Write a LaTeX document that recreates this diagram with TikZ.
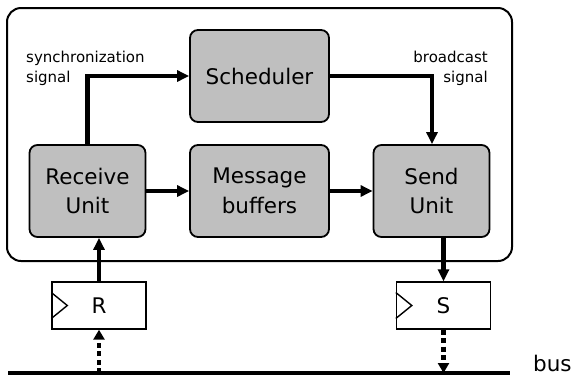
\documentclass[tikz,border=0pt]{standalone}
\usepackage{fontspec}
\setmainfont{DejaVu Sans}
\usetikzlibrary{arrows.meta,calc}
\begin{document}
\begin{tikzpicture}[x=1pt,y=-1pt,
 unit/.style={draw,line width=1.8pt,fill=black!25,rounded corners=8pt,align=center,font=\fontsize{21.5}{29.5}\selectfont,inner sep=0pt},
 reg/.style={draw,line width=1.4pt,fill=white,inner sep=0pt,minimum width=94pt,minimum height=47pt,font=\fontsize{21.5}{24}\selectfont},
 flow/.style={line width=4.5pt,-{Triangle[length=12pt,width=11pt]}},
 dotflow/.style={line width=4.5pt,dash pattern=on 5pt off 3.5pt,-{Triangle[length=10pt,width=11pt]}},
 lbl/.style={font=\fontsize{15}{20}\selectfont,inner sep=0pt}]
\useasboundingbox (0,0) rectangle (576,376);
% outer system box
\node[draw,line width=2pt,rounded corners=14pt,minimum width=505pt,minimum height=253pt,inner sep=0pt] (sys) at (259.5,134.5) {};
% units
\node[unit,minimum width=139pt,minimum height=92pt] (sched) at (259.5,76) {Scheduler};
\node[unit,minimum width=116pt,minimum height=92pt] (recv) at (87.5,191) {Receive\\Unit};
\node[unit,minimum width=139pt,minimum height=92pt] (msg) at (259.5,191) {Message\\buffers};
\node[unit,minimum width=116pt,minimum height=92pt] (send) at (431.5,191) {Send\\Unit};
% registers
\node[reg] (R) at (99,305.5) {R};
\node[reg] (S) at (443.5,305.5) {S};
\draw[line width=1.4pt] ($(R.west)+(0,-13)$) -- ($(R.west)+(16,0)$) -- ($(R.west)+(0,13)$);
\draw[line width=1.4pt] ($(S.west)+(0,-13)$) -- ($(S.west)+(16,0)$) -- ($(S.west)+(0,13)$);
% labels
\node[lbl,anchor=base west] (sync1) at (26,62) {synchronization};
\node[lbl,anchor=base west] (sync2) at (26,82) {signal};
\node[lbl,anchor=base east] (bc1) at (488,62) {broadcast};
\node[lbl,anchor=base east] (bc2) at (488,82) {signal};
% bus
\coordinate (busL) at (8,373);
\coordinate (busR) at (510,373);
\draw[line width=4.5pt] (busL) -- (busR);
\node[font=\fontsize{21.5}{24}\selectfont,anchor=base west,inner sep=0pt] (bus) at (533,371) {bus};
% flows
\draw[flow] (recv.north) |- (sched.west);
\draw[flow] (sched.east) -| ($(send.north)+(0.5,0)$);
\draw[flow] (recv.east) -- (msg.west);
\draw[flow] (msg.east) -- (send.north west |- msg.east);
\draw[flow] (R.north) -- (R.north |- recv.south);
\draw[flow] (send.south -| S.north) -- (S.north);
\draw[dotflow] (R.south |- busL) -- (R.south);
\draw[dotflow] (S.south) -- (S.south |- busL);
\end{tikzpicture}
\end{document}
